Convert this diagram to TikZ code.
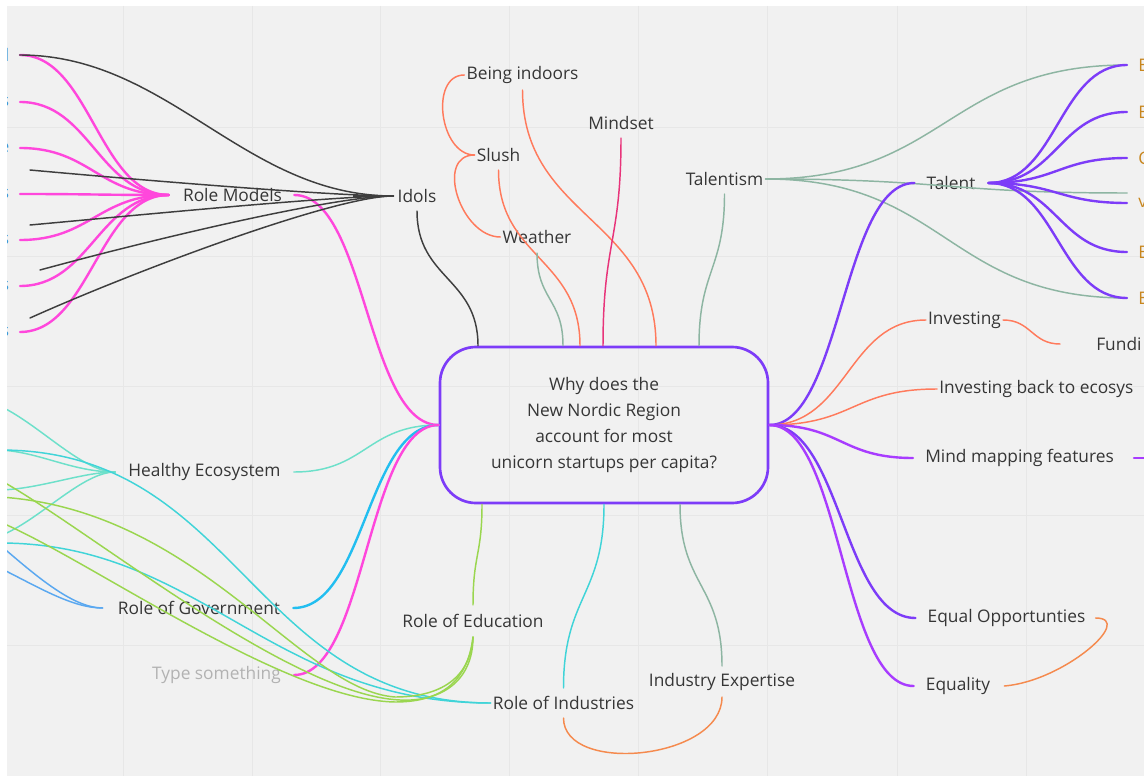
\documentclass[tikz,border=0pt]{standalone}
\usepackage{fontspec}
\setmainfont{Open Sans}
\usetikzlibrary{calc}
\definecolor{bgc}{HTML}{F1F1F1}
\definecolor{gridc}{HTML}{E7E7E7}
\definecolor{txt}{HTML}{363636}
\definecolor{pinkc}{HTML}{FF47DC}
\definecolor{darkc}{HTML}{3E3E3E}
\definecolor{salmon}{HTML}{FF7A5C}
\definecolor{crimson}{HTML}{E8347A}
\definecolor{sage}{HTML}{8DB5A2}
\definecolor{violet}{HTML}{7D3CF8}
\definecolor{orchid}{HTML}{A83CFF}
\definecolor{aqua}{HTML}{40D4D8}
\definecolor{mint}{HTML}{6DE0CA}
\definecolor{sky}{HTML}{22BEF0}
\definecolor{azure}{HTML}{5AA8F0}
\definecolor{lime}{HTML}{9AD64F}
\definecolor{tangerine}{HTML}{F58A4E}
\definecolor{edgeblue}{HTML}{3A9AD9}
\definecolor{edgegold}{HTML}{C8861E}
\begin{document}
\begin{tikzpicture}[x=0.75pt,y=-0.75pt,
  lbl/.style={font=\fontsize{13}{16}\selectfont, text=txt, inner sep=0pt},
  faint/.style={lbl, text=black!30},
  edgeleft/.style={lbl, text=edgeblue, anchor=east},
  edgeright/.style={lbl, text=edgegold, anchor=west},
  hubbox/.style={draw=violet, line width=2pt, rounded corners=27pt,
    minimum width=246pt, minimum height=117pt, align=center,
    font=\fontsize{13}{19.7}\selectfont, text=txt},
  thin/.style={line width=1.1pt, line cap=round},
  thick/.style={line width=1.8pt, line cap=round},
]
\useasboundingbox (0,0) rectangle (1144,780);
\fill[white] (0,0) rectangle (1144,780);
\fill[bgc] (7,6) rectangle (1144,776);
\begin{scope}
\clip (7,6) rectangle (1144,776);
% background grid
\foreach \gx in {123,252,380,509,638,767,897,1026}
  \draw[gridc, line width=0.75pt] (\gx,6) -- (\gx,776);
\foreach \gy in {128,257,386,515,645}
  \draw[gridc, line width=0.75pt] (7,\gy) -- (1144,\gy);

% central topic
\node[hubbox] (c) at (604,425) {Why does the\\New Nordic Region\\account for most\\unicorn startups per capita?};

% topic labels
\node[lbl] (rm) at (232.5,195) {Role Models};
\node[lbl] (id) at (417,196) {Idols};
\node[lbl] (bi) at (522.5,75) {Being indoors};
\node[lbl] (sl) at (498.5,155) {Slush};
\node[lbl] (we) at (537,237) {Weather};
\node[lbl] (ms) at (621,123) {Mindset};
\node[lbl] (tm) at (724.5,179) {Talentism};
\node[lbl] (ta) at (951,183) {Talent};
\node[lbl] (iv) at (964.5,320) {Investing};
\node[lbl, anchor=west] (fu) at (1096,344) {Fundi};
\node[lbl, anchor=west] (ib) at (939,389) {Investing back to ecosys};
\node[lbl, anchor=west] (mm) at (925,458) {Mind mapping features};
\node[lbl] (eo) at (1006.5,618) {Equal Opportunties};
\node[lbl] (eq) at (958,686) {Equality};
\node[lbl] (ie) at (722,682) {Industry Expertise};
\node[lbl] (ri) at (563.5,703) {Role of Industries};
\node[lbl] (re) at (473,621) {Role of Education};
\node[faint] (ts) at (216.5,675) {Type something};
\node[lbl] (rg) at (199,608) {Role of Government};
\node[lbl] (he) at (204.5,472) {Healthy Ecosystem};

% labels cut by the left edge
\node[edgeleft] (l1) at (9.5,55) {l};
\node[edgeleft] (l2) at (9.5,102) {s};
\node[edgeleft] (l3) at (9.5,148) {e};
\node[edgeleft] (l4) at (9.5,194) {s};
\node[edgeleft] (l5) at (9.5,240) {s};
\node[edgeleft] (l6) at (9.5,286) {s};
\node[edgeleft] (l7) at (9.5,332) {s};
% labels cut by the right edge
\node[edgeright] (r1) at (1138,65) {E};
\node[edgeright] (r2) at (1138,112) {E};
\node[edgeright] (r3) at (1138,158) {C};
\node[edgeright] (r4) at (1138,203) {v};
\node[edgeright] (r5) at (1138,252) {E};
\node[edgeright] (r6) at (1138,298) {E};

% anchor points on the central topic
\coordinate (L) at (c.west);
\coordinate (R) at (c.east);

% ---- Role Models fan
\coordinate (rmh) at ($(rm.west)+(-14,0)$);
\foreach \n in {l1,l2,l3,l4,l5,l6,l7}
  \draw[pinkc, thick] (rmh) .. controls +(-70,0) and +(70,0) .. ($(\n.east)+(10.5,0)$);
\draw[pinkc, thick] ($(rm.east)+(12,0)$) .. controls +(72,0) and +(-72,0) .. (L);

% ---- Idols
\coordinate (idh) at ($(id.west)+(-4,0)$);
\coordinate (k1) at (30,170);
\coordinate (k2) at (30,225);
\coordinate (k3) at (40,270);
\coordinate (k4) at (30,318);
\draw[darkc, thin] (idh) .. controls +(-150,0) and +(150,0) .. ($(l1.east)+(10,0)$);
\draw[darkc, thin] (idh) .. controls +(-60,0) and +(110,10) .. (k1);
\draw[darkc, thin] (idh) .. controls +(-60,0) and +(110,-10) .. (k2);
\draw[darkc, thin] (idh) .. controls +(-60,0) and +(110,-30) .. (k3);
\draw[darkc, thin] (idh) .. controls +(-60,0) and +(100,-45) .. (k4);
\draw[darkc, line width=1.6pt] (idh) -- ++(-40,0);
\draw[darkc, thin] ($(id)+(0,15)$) .. controls +(0,68) and +(0,-68) .. ($(c.north)+(-126,0)$);

% ---- weather branch
\draw[salmon, thin] ($(bi.west)+(-2,0)$) .. controls +(-35,0) and +(-35,0) .. ($(sl.west)+(-2,0)$);
\draw[salmon, thin] ($(sl.west)+(-2,0)$) .. controls +(-40,0) and +(-40,0) .. ($(we.west)+(-2,0)$);
\draw[salmon, thin] ($(bi)+(0,15)$) .. controls +(0,128) and +(0,-128) .. ($(c.north)+(52,0)$);
\draw[salmon, thin] ($(sl)+(0,15)$) .. controls +(0,88) and +(0,-88) .. ($(c.north)+(-24,0)$);
\draw[sage, thin] ($(we)+(0,16)$) .. controls +(0,47) and +(0,-47) .. ($(c.north)+(-41,0)$);
\draw[crimson, thin] ($(ms)+(0,15)$) .. controls +(0,104) and +(0,-104) .. ($(c.north)+(-1,0)$);

% ---- Talentism and Talent
\draw[sage, thin] ($(tm)+(0,15)$) .. controls +(0,76) and +(0,-76) .. ($(c.north)+(95,0)$);
\coordinate (tmh) at ($(tm.east)+(2,0)$);
\draw[sage, thin] (tmh) .. controls +(180,0) and +(-180,0) .. ($(r1.west)+(-11,0)$);
\draw[sage, thin] (tmh) .. controls +(180,0) and +(-180,0) .. ($(r4.west)+(-11,-10)$);
\draw[sage, thin] (tmh) .. controls +(180,0) and +(-180,0) .. ($(r6.west)+(-11,0)$);
\draw[violet, thick] (R) .. controls +(72,0) and +(-72,0) .. ($(ta.west)+(-12,0)$);
\coordinate (tah) at ($(ta.east)+(13,0)$);
\foreach \n in {r1,r2,r3,r4,r5,r6}
  \draw[violet, thick] (tah) .. controls +(68,0) and +(-68,0) .. ($(\n.west)+(-11,0)$);

% ---- investing
\draw[salmon, thin] (R) .. controls +(78,0) and +(-78,0) .. ($(iv.west)+(-2,0)$);
\draw[salmon, thin] ($(iv.east)+(2,0)$) .. controls +(28,0) and +(-28,0) .. ($(fu.west)+(-36,0)$);
\draw[salmon, thin] (R) .. controls +(85,0) and +(-85,0) .. ($(ib.west)+(-2,0)$);

% ---- right side lower branches
\draw[orchid, thick] (R) .. controls +(72,0) and +(-72,0) .. ($(mm.west)+(-12,0)$);
\draw[orchid, thick] ($(mm.west)+(209,0)$) -- ++(40,0);
\draw[violet, thick] (R) .. controls +(72,0) and +(-72,0) .. ($(eo.west)+(-12,0)$);
\draw[orchid, thick] (R) .. controls +(72,0) and +(-72,0) .. ($(eq.west)+(-12,0)$);
\draw[tangerine, thin] ($(eo.east)+(10,0)$) .. controls +(40,0) and +(60,-5) .. ($(eq.east)+(14,0)$);

% ---- bottom branches
\draw[lime, thin] ($(c.south)+(-122,0)$) .. controls +(0,51) and +(0,-51) .. ($(re)+(0,-16)$);
\draw[aqua, thin] (c.south) .. controls +(0,92) and +(0,-92) .. ($(ri)+(0,-15)$);
\draw[sage, thin] ($(c.south)+(76,0)$) .. controls +(0,82) and +(0,-82) .. ($(ie)+(0,-16)$);
\draw[tangerine, thin] ($(ri)+(0,15)$) .. controls +(0,57) and +(0,63) .. ($(ie)+(0,15)$);

% ---- left side lower branches
\draw[mint, thin] ($(he.east)+(13,0)$) .. controls +(72,0) and +(-72,0) .. (L);
\draw[sky, thick] ($(rg.east)+(13,0)$) .. controls +(72,0) and +(-72,0) .. (L);
\draw[pinkc, thick] ($(ts.east)+(13,0)$) .. controls +(72,0) and +(-72,0) .. (L);

\coordinate (heh) at ($(he.west)+(-13,0)$);
\draw[mint, thin] (heh) .. controls +(-33,0) and +(40,19) .. (0,406);
\draw[mint, thin] (heh) .. controls +(-43,0) and +(40,2) .. (0,450);
\draw[mint, thin] (heh) .. controls +(-33,0) and +(40,-1) .. (0,490);
\draw[mint, thin] (heh) .. controls +(-33,0) and +(40,-16) .. (0,536);

\coordinate (rih) at ($(ri.west)+(-2,0)$);
\draw[aqua, thin] (rih) .. controls +(-240,0) and +(240,0) .. (0,450);
\draw[aqua, thin] (rih) .. controls +(-220,0) and +(200,0) .. (0,543);

\coordinate (reb) at ($(re)+(0,16)$);
\draw[lime, thin] (reb) .. controls +(0,45) and +(40,2) .. (400,700)
  .. controls +(-110,-5) and +(90,50) .. (0,480);
\draw[lime, thin] (reb) .. controls +(-3,45) and +(40,0) .. (395,697)
  .. controls +(-95,-7) and +(200,13) .. (0,497);
\draw[lime, thin] (reb) .. controls +(-6,50) and +(40,0) .. (395,702)
  .. controls +(-110,-2) and +(90,38) .. (0,522);

\coordinate (rgh) at ($(rg.west)+(-15,0)$);
\draw[azure, thin] (rgh) .. controls +(-30,0) and +(35,30) .. (0,545);
\draw[azure, thin] (rgh) .. controls +(-30,0) and +(40,20) .. (0,568);
\end{scope}
\end{tikzpicture}
\end{document}
